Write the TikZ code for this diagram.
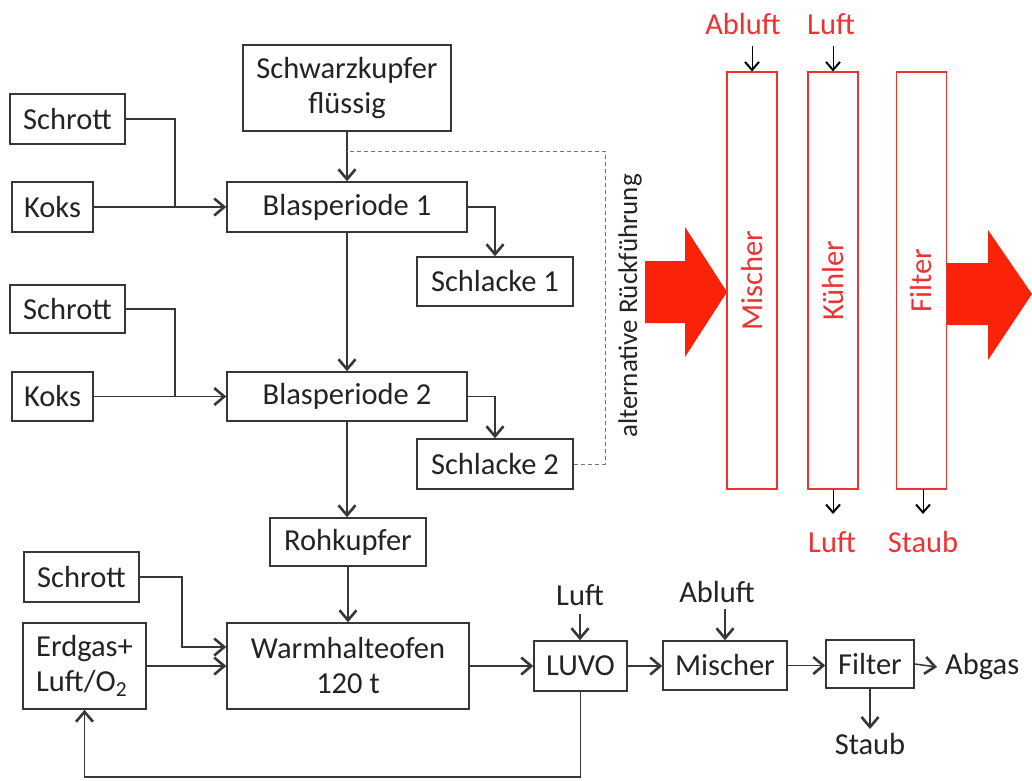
\documentclass[tikz,border=0pt]{standalone}
\usepackage{fontspec}
\setmainfont{Carlito}
\usetikzlibrary{arrows.meta,calc}
\definecolor{ink}{RGB}{35,35,35}
\definecolor{linec}{RGB}{55,55,55}
\definecolor{redtxt}{RGB}{238,50,50}
\definecolor{redfill}{RGB}{250,35,10}
\newcommand\bigfs{\fontsize{30.5}{35}\selectfont}
\newcommand\midfs{\fontsize{27}{32}\selectfont}
\begin{document}
\begin{tikzpicture}[x=1pt,y=-1pt,
  every node/.style={font=\bigfs,text=ink},
  box/.style={draw=linec,line width=1.5pt,inner sep=0pt,align=center},
  rbox/.style={draw=redtxt,line width=1.1pt,inner sep=0pt,minimum width=50,minimum height=417},
  conn/.style={draw=linec,line width=1.5pt},
  arr/.style={conn,-{Straight Barb[length=10pt,width=17pt,line width=2.6pt]}},
  sarr/.style={draw=black,line width=1pt,-{Straight Barb[length=8pt,width=14pt,line width=2pt]}},
  dashline/.style={draw=black!55,line width=1pt,dash pattern=on 4pt off 3pt},
  lbl/.style={inner sep=0pt},
  rlbl/.style={inner sep=0pt,text=redtxt},
  redarrow/.style={fill=redfill,draw=none}]
\useasboundingbox (0,0) rectangle (1032,780);

% left process boxes
\node[box,minimum width=208,minimum height=86] (schwarz) at (347,88) {Schwarzkupfer\\flüssig};
\node[box,minimum width=115,minimum height=50] (schrottA) at (67.5,119) {Schrott};
\node[box,minimum width=81,minimum height=50] (koksA) at (52.5,207) {Koks};
\node[box,minimum width=240,minimum height=50] (bpA) at (347,207) {Blasperiode 1};
\node[box,minimum width=156,minimum height=49] (schlA) at (495,281.5) {Schlacke 1};
\node[box,minimum width=115,minimum height=48] (schrottB) at (67.5,309) {Schrott};
\node[box,minimum width=81,minimum height=49] (koksB) at (52.5,396.5) {Koks};
\node[box,minimum width=240,minimum height=49] (bpB) at (347,396.5) {Blasperiode 2};
\node[box,minimum width=156,minimum height=50] (schlB) at (495,464) {Schlacke 2};
\node[box,minimum width=156,minimum height=48] (rohk) at (348,542) {Rohkupfer};
\node[box,minimum width=115,minimum height=50] (schrottC) at (81.5,577) {Schrott};
\node[box,align=left,minimum width=123,minimum height=86] (erdgas) at (84.5,666) {Erdgas+\\Luft/O\textsubscript{2}};
\node[box,minimum width=242,minimum height=86] (warm) at (348,666) {Warmhalteofen\\120 t};
\node[box,minimum width=93,minimum height=50] (luvo) at (580.5,666) {LUVO};
\node[box,minimum width=124,minimum height=49] (misch) at (725,665.5) {Mischer};
\node[box,minimum width=88,minimum height=48] (filt) at (870,664) {Filter};

% free labels bottom right
\node[lbl,anchor=south] (luft) at (580,606) {Luft};
\node[lbl,anchor=south] (abluft) at (717,603) {Abluft};
\node[lbl,anchor=west] (abgas) at (945,667) {Abgas};
\node[lbl,anchor=north] (staub) at (870,733) {Staub};

% connectors Blasperiode 1
\draw[arr] (schrottA.east) -- (175,119) |- (bpA.west);
\draw[conn] (koksA.east) -- (175,207);
\draw[arr] (schwarz.south) -- (bpA.north);
\draw[arr] (bpA.east) -| (schlA.north);
\draw[arr] (bpA.south) -- (bpB.north);
% Blasperiode 2
\draw[arr] (schrottB.east) -- (175,309) |- (bpB.west);
\draw[conn] (koksB.east) -- (175,396.5);
\draw[arr] (bpB.east) -| (schlB.north);
\draw[arr] (bpB.south) -- (rohk.north -| bpB.south);
\draw[arr] (rohk.south) -- (warm.north);
% dashed return
\draw[dashline] (schlB.east) -- (605,464) -- (605,151) -- (bpA.north |- 0,151);
\node[inner sep=0pt,rotate=90,font=\midfs] (alt) at (630,306) {alternative Rückführung};

% Warmhalteofen
\draw[arr] (schrottC.east) -- (182,577) |- ($(warm.west)+(0,-19)$);
\draw[arr] (erdgas.east) -- (warm.west);
\draw[arr] (warm.east) -- (luvo.west);
\draw[arr] (luvo.east) -- (luvo.east -| misch.west);
\draw[arr] (misch.east) -- (misch.east -| filt.west);
\draw[arr] (filt.east) -- ([xshift=-8pt]abgas.west);
\draw[arr] (filt.south) -- ([yshift=4pt]staub.north);
\draw[arr] ([yshift=-8pt]luft.south) -- (luvo.north -| luft.south);
\draw[arr] ([yshift=-6pt]misch.north |- abluft.south) -- (misch.north);
\draw[arr] (luvo.south) -- (luvo.south |- 0,777) -| (erdgas.south);

% red section
\node[rbox] (rmisch) at (752,280.5) {};
\node[rbox] (rkuehl) at (833,280.5) {};
\node[rbox] (rfilt) at (921.5,280.5) {};
\node[rotate=90,text=redtxt,inner sep=0pt] at (rmisch.center) {Mischer};
\node[rotate=90,text=redtxt,inner sep=0pt] at (rkuehl.center) {Kühler};
\node[rotate=90,text=redtxt,inner sep=0pt] at (rfilt.center) {Filter};

\node[rlbl,anchor=south] (rabluft) at (743,35) {Abluft};
\node[rlbl,anchor=south] (rluft) at (831,35) {Luft};
\node[rlbl,anchor=north] (rluftb) at (832,531) {Luft};
\node[rlbl,anchor=north] (rstaub) at (923,531) {Staub};
\draw[sarr] (rmisch.north |- 0,46) -- (rmisch.north);
\draw[sarr] (rkuehl.north |- 0,46) -- (rkuehl.north);
\draw[sarr] (rkuehl.south) -- (rkuehl.south |- 0,514);
\draw[sarr] (923,489) -- (923,514);

\fill[redarrow] (645,261) -- (685,261) -- (685,227) -- (727,292) -- (685,357) -- (685,323) -- (645,323) -- cycle;
\fill[redarrow] (947,263) -- (988,263) -- (988,230) -- (1032,294) -- (988,360) -- (988,325) -- (947,325) -- cycle;
\end{tikzpicture}
\end{document}
